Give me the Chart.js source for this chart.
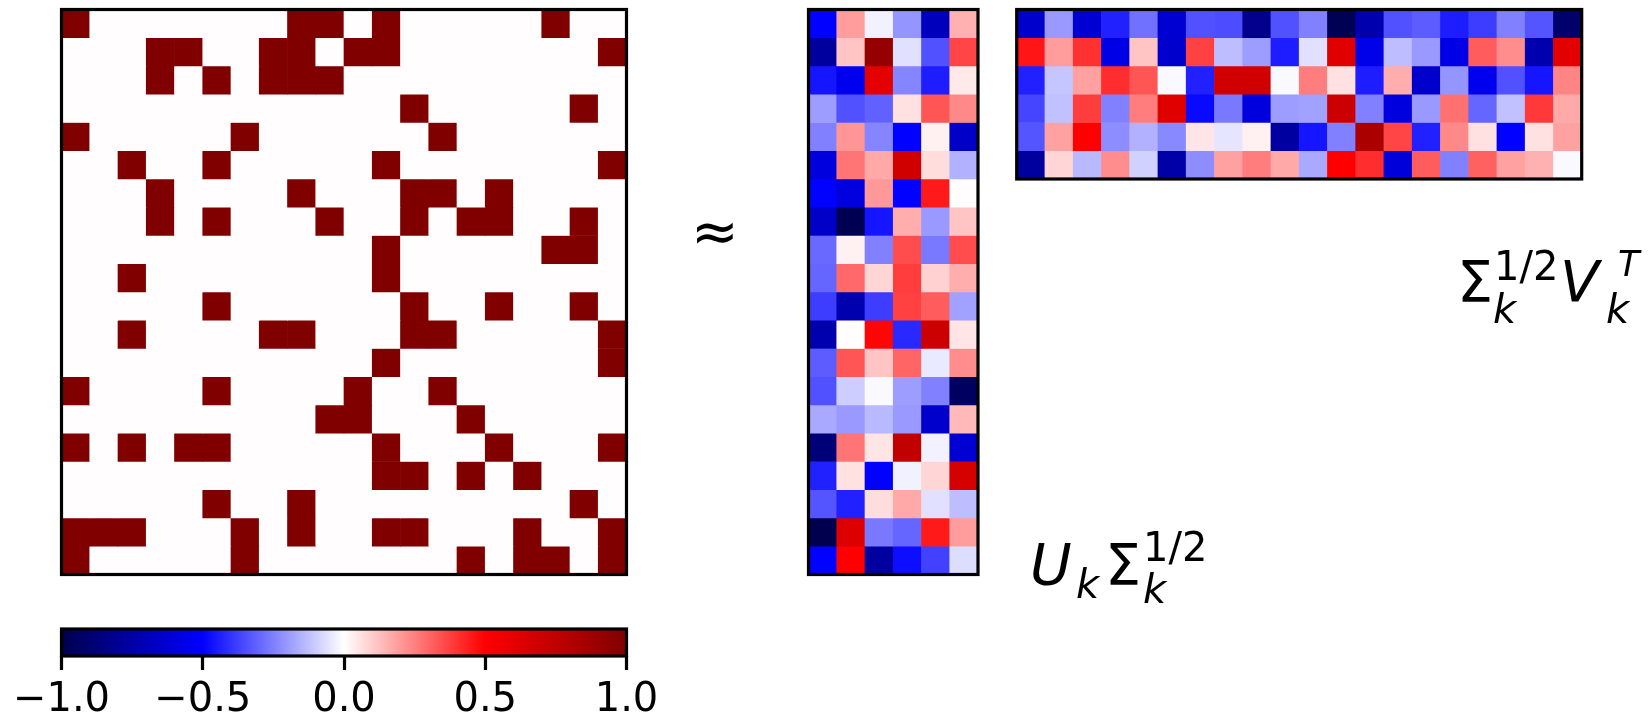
<!DOCTYPE html>
<html>
<head>
<meta charset="utf-8">
<title>Low-rank factorisation of an adjacency matrix</title>
<script src="https://cdn.jsdelivr.net/npm/chart.js@4.4.1/dist/chart.umd.min.js"></script>
<style>
  html, body { margin: 0; padding: 0; background: #fff; }
  #stage { position: relative; width: 1649px; height: 721px; overflow: hidden; background: #fff; }
  #stage canvas { position: absolute; }
  #labels { position: absolute; left: 0; top: 0; pointer-events: none; }
</style>
</head>
<body>
<div id="stage">
  <canvas id="adjChart"></canvas>
  <canvas id="uChart"></canvas>
  <canvas id="vChart"></canvas>
  <canvas id="cbChart"></canvas>
  <svg id="labels" width="1649" height="721" font-family="DejaVu Sans" fill="#000">
    <text x="715" y="251" font-size="57" text-anchor="middle">≈</text>
    <!-- U_k Σ_k^{1/2} -->
    <text x="1030" y="585" font-size="57" font-style="italic">U</text>
    <text x="1076" y="598" font-size="40" font-style="italic">k</text>
    <text x="1105" y="585" font-size="57">Σ</text>
    <text x="1143" y="561" font-size="40">1/2</text>
    <text x="1143" y="603" font-size="40" font-style="italic">k</text>
    <!-- Σ_k^{1/2} V_k^T -->
    <text x="1457" y="302" font-size="57">Σ</text>
    <text x="1494" y="280" font-size="40">1/2</text>
    <text x="1493" y="323" font-size="40" font-style="italic">k</text>
    <text x="1560" y="302" font-size="57" font-style="italic">V</text>
    <text x="1618" y="276" font-size="35" font-style="italic">T</text>
    <text x="1606" y="323" font-size="40" font-style="italic">k</text>
  </svg>
</div>
<script>
// 20 x 20 binary adjacency matrix
const adjacency = [
  [1,0,0,0,0,0,0,0,1,1,0,1,0,0,0,0,0,1,0,0],
  [0,0,0,1,1,0,0,1,1,0,1,1,0,0,0,0,0,0,0,1],
  [0,0,0,1,0,1,0,1,1,1,0,0,0,0,0,0,0,0,0,0],
  [0,0,0,0,0,0,0,0,0,0,0,0,1,0,0,0,0,0,1,0],
  [1,0,0,0,0,0,1,0,0,0,0,0,0,1,0,0,0,0,0,0],
  [0,0,1,0,0,1,0,0,0,0,0,1,0,0,0,0,0,0,0,1],
  [0,0,0,1,0,0,0,0,1,0,0,0,1,1,0,1,0,0,0,0],
  [0,0,0,1,0,1,0,0,0,1,0,0,1,0,1,1,0,0,1,0],
  [0,0,0,0,0,0,0,0,0,0,0,1,0,0,0,0,0,1,1,0],
  [0,0,1,0,0,0,0,0,0,0,0,1,0,0,0,0,0,0,0,0],
  [0,0,0,0,0,1,0,0,0,0,0,0,1,0,0,1,0,0,1,0],
  [0,0,1,0,0,0,0,1,1,0,0,0,1,1,0,0,0,0,0,1],
  [0,0,0,0,0,0,0,0,0,0,0,1,0,0,0,0,0,0,0,1],
  [1,0,0,0,0,1,0,0,0,0,1,0,0,1,0,0,0,0,0,0],
  [0,0,0,0,0,0,0,0,0,1,1,0,0,0,1,0,0,0,0,0],
  [1,0,1,0,1,1,0,0,0,0,0,1,0,0,0,1,0,0,0,1],
  [0,0,0,0,0,0,0,0,0,0,0,1,1,0,1,0,1,0,0,0],
  [0,0,0,0,0,1,0,0,1,0,0,0,0,0,0,0,0,0,1,0],
  [1,1,1,0,0,0,1,0,1,0,0,1,1,0,0,0,1,0,0,1],
  [1,0,0,0,0,0,1,0,0,0,0,0,0,0,1,0,1,1,0,1]
];

// left factor U_k Σ_k^{1/2}: 20 rows x 6 components
const leftFactor = [
  [-0.50,  0.19, -0.03, -0.21, -0.68,  0.15],
  [-0.77,  0.11,  0.91, -0.06, -0.34,  0.36],
  [-0.46, -0.54,  0.60, -0.24, -0.44,  0.04],
  [-0.19, -0.34, -0.31,  0.06,  0.33,  0.23],
  [-0.25,  0.21, -0.24, -0.50,  0.03, -0.65],
  [-0.59,  0.27,  0.17,  0.68,  0.07, -0.15],
  [-0.50, -0.59,  0.20, -0.50,  0.45,  0.00],
  [-0.65, -0.98, -0.46,  0.16, -0.20,  0.11],
  [-0.29,  0.03, -0.25,  0.35, -0.26,  0.35],
  [-0.30,  0.29,  0.08,  0.38,  0.09,  0.16],
  [-0.38, -0.72, -0.38,  0.37,  0.32, -0.18],
  [-0.72,  0.00,  0.49, -0.42,  0.70,  0.05],
  [-0.32,  0.33,  0.11,  0.30, -0.04,  0.22],
  [-0.34, -0.10, -0.01, -0.19, -0.25, -0.94],
  [-0.17, -0.20, -0.14, -0.20, -0.64,  0.14],
  [-0.88,  0.27,  0.05,  0.74, -0.03, -0.62],
  [-0.43,  0.06, -0.50, -0.03,  0.08,  0.66],
  [-0.33, -0.43,  0.07,  0.17, -0.06, -0.13],
  [-0.99,  0.64, -0.26, -0.30,  0.45,  0.19],
  [-0.50,  0.50, -0.76, -0.47, -0.37, -0.07]
];

// right factor Σ_k^{1/2} V_k^T: 6 components x 20 columns
const rightFactor = [
  [-0.64, -0.20, -0.62, -0.43, -0.28, -0.62, -0.34, -0.35, -0.82, -0.34, -0.25, -0.97, -0.72, -0.34, -0.32, -0.44, -0.38, -0.25, -0.33, -0.91],
  [ 0.46,  0.19,  0.40, -0.57,  0.11, -0.64,  0.37, -0.13, -0.19, -0.44, -0.06,  0.62, -0.56, -0.13, -0.20, -0.57,  0.32,  0.22, -0.72,  0.60],
  [-0.43, -0.11,  0.18,  0.41,  0.33, -0.01, -0.43,  0.68,  0.68, -0.01,  0.25,  0.06, -0.44,  0.16, -0.64, -0.21, -0.54, -0.34, -0.46,  0.24],
  [-0.36, -0.12,  0.38, -0.25,  0.25,  0.62, -0.48, -0.26, -0.59, -0.19, -0.18,  0.70, -0.25, -0.59, -0.20,  0.28, -0.30, -0.12,  0.39,  0.17],
  [-0.33,  0.18,  0.50, -0.22, -0.15, -0.23,  0.05, -0.05,  0.03, -0.76, -0.46, -0.25,  0.83,  0.36, -0.43,  0.23,  0.06, -0.50,  0.06,  0.18],
  [-0.77,  0.08, -0.14,  0.22, -0.09, -0.74, -0.22,  0.18,  0.25,  0.17, -0.17,  0.50,  0.41, -0.60,  0.32, -0.25,  0.31,  0.18,  0.15, -0.01]
];

// colour bar range and tick values
const colorbarTicks = [-1.0, -0.5, 0.0, 0.5, 1.0];

// diverging blue-white-red map (256 levels, anchors at equal spacing)
const SEISMIC_ANCHORS = [[0, 0, 0.3], [0, 0, 1], [1, 1, 1], [1, 0, 0], [0.5, 0, 0]];
const VMIN = colorbarTicks[0], VMAX = colorbarTicks[colorbarTicks.length - 1];

function seismic(v) {
  const t = (v - VMIN) / (VMAX - VMIN);
  let idx = Math.floor(t * 256);
  idx = Math.min(255, Math.max(0, idx));
  const s = idx / 255 * 4;
  const k = Math.min(3, Math.floor(s));
  const f = s - k;
  const a = SEISMIC_ANCHORS[k], b = SEISMIC_ANCHORS[k + 1];
  const c = a.map((x, j) => Math.round(255 * (x + (b[j] - x) * f)));
  return 'rgb(' + c.join(',') + ')';
}

// black frame around each plotting area
const framePlugin = {
  id: 'frame',
  afterDatasetsDraw(chart) {
    const { ctx, chartArea: a } = chart;
    ctx.save();
    ctx.lineWidth = 3.2;
    ctx.strokeStyle = '#000';
    ctx.lineJoin = 'miter';
    ctx.strokeRect(a.left, a.top, a.right - a.left, a.bottom - a.top);
    ctx.restore();
  }
};

// place a canvas so that its chart area lands on the given page box
function placeCanvas(canvas, box, extra) {
  const cx = Math.floor(box.x) - extra.left;
  const cy = Math.floor(box.y) - extra.top;
  const cw = Math.ceil(box.x + box.w) + extra.right - cx;
  const ch = Math.ceil(box.y + box.h) + extra.bottom - cy;
  canvas.width = cw; canvas.height = ch;
  canvas.style.left = cx + 'px'; canvas.style.top = cy + 'px';
  canvas.style.width = cw + 'px'; canvas.style.height = ch + 'px';
  return {
    left: box.x - cx,
    top: box.y - cy,
    right: cx + cw - (box.x + box.w),
    bottom: cy + ch - (box.y + box.h)
  };
}

// heat map built from floating bars: one dataset per matrix row
function drawMatrix(canvasId, matrix, box) {
  const canvas = document.getElementById(canvasId);
  const padding = placeCanvas(canvas, box, { left: 4, top: 4, right: 4, bottom: 4 });
  const nRows = matrix.length;
  const labels = matrix[0].map((_, c) => String(c));
  const datasets = matrix.map((row, r) => ({
    label: 'row ' + r,
    data: row.map(() => [r, r + 1]),
    backgroundColor: row.map(seismic),
    borderWidth: 0,
    grouped: false,
    barPercentage: 1,
    categoryPercentage: 1
  }));
  return new Chart(canvas, {
    type: 'bar',
    data: { labels, datasets },
    options: {
      responsive: false,
      animation: false,
      devicePixelRatio: 1,
      layout: { padding },
      plugins: { legend: { display: false }, tooltip: { enabled: false } },
      scales: {
        x: { type: 'category', display: false },
        y: { type: 'linear', min: 0, max: nRows, reverse: true, display: false }
      }
    },
    plugins: [framePlugin]
  });
}

drawMatrix('adjChart', adjacency,   { x: 61.5,  y: 9.5, w: 565.0, h: 565.0 });
drawMatrix('uChart',   leftFactor,  { x: 808.5, y: 9.5, w: 169.5, h: 565.0 });
drawMatrix('vChart',   rightFactor, { x: 1016.7, y: 9.5, w: 565.0, h: 169.5 });

// horizontal colour bar under the adjacency matrix
(function drawColorbar() {
  const canvas = document.getElementById('cbChart');
  const box = { x: 61.5, y: 629, w: 565.0, h: 27 };
  const padding = placeCanvas(canvas, box, { left: 62, top: 4, right: 74, bottom: 65 });
  const axisHeight = padding.bottom;
  padding.bottom = 0;
  const fmt = v => v.toFixed(1).replace('-', '\u2212');
  new Chart(canvas, {
    type: 'bar',
    data: {
      labels: [''],
      datasets: [{
        data: [[VMIN, VMAX]],
        backgroundColor: ctx => {
          const a = ctx.chart.chartArea;
          if (!a) return null;
          const g = ctx.chart.ctx.createLinearGradient(a.left, 0, a.right, 0);
          SEISMIC_ANCHORS.forEach((c, i) => {
            g.addColorStop(i / (SEISMIC_ANCHORS.length - 1),
              'rgb(' + c.map(x => Math.round(x * 255)).join(',') + ')');
          });
          return g;
        },
        borderWidth: 0,
        barPercentage: 1,
        categoryPercentage: 1
      }]
    },
    options: {
      indexAxis: 'y',
      responsive: false,
      animation: false,
      devicePixelRatio: 1,
      layout: { padding },
      plugins: { legend: { display: false }, tooltip: { enabled: false } },
      scales: {
        y: { display: false },
        x: {
          type: 'linear',
          position: 'bottom',
          min: VMIN,
          max: VMAX,
          afterBuildTicks: s => { s.ticks = colorbarTicks.map(v => ({ value: v })); },
          afterFit: s => { s.height = axisHeight; },
          border: { display: false },
          grid: {
            display: true,
            drawOnChartArea: false,
            drawTicks: true,
            tickLength: 14,
            tickWidth: 3.2,
            tickColor: '#000'
          },
          ticks: {
            padding: 7,
            color: '#000',
            autoSkip: false,
            maxRotation: 0,
            font: { family: 'DejaVu Sans', size: 40 },
            callback: v => fmt(v)
          }
        }
      }
    },
    plugins: [framePlugin]
  });
})();
</script>
</body>
</html>
